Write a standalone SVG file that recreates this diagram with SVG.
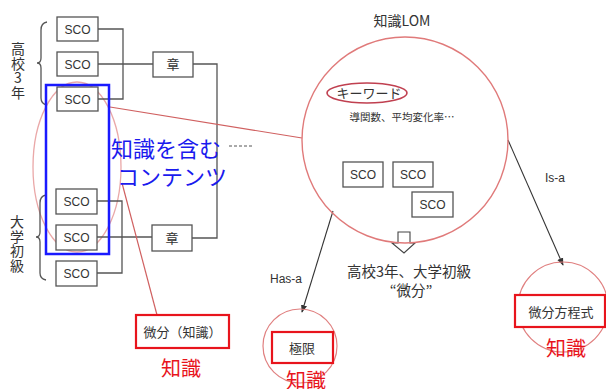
<svg xmlns="http://www.w3.org/2000/svg" width="606" height="389" viewBox="0 0 606 389">
<defs>
<style>
.box{fill:#fff;stroke:#555;stroke-width:1.3}
.rbox{fill:#fff;stroke:#e8141c;stroke-width:2.2}
.t{font-family:"Liberation Sans","Noto Sans CJK JP",sans-serif;fill:#333;text-anchor:middle}
.j{font-family:"Noto Sans CJK JP",sans-serif;fill:#333;text-anchor:middle}
.v{font-family:"Noto Sans CJK JP",sans-serif;fill:#333;font-size:14px;writing-mode:vertical-rl;text-orientation:upright;letter-spacing:0.5px}
.red{font-family:"Noto Sans CJK JP",sans-serif;fill:#e8141c;text-anchor:middle;font-size:20px}
.blue{font-family:"Noto Sans CJK JP",sans-serif;fill:#1a1aee;font-size:22px}
.ln{fill:none;stroke:#555;stroke-width:1.3}
.pl{fill:none;stroke:#d06060;stroke-width:1.2}
</style>
<marker id="ah" viewBox="0 0 10 10" refX="9" refY="5" markerWidth="7" markerHeight="7" orient="auto">
<path d="M0,1 L10,5 L0,9 z" fill="#333"/>
</marker>
</defs>
<rect width="606" height="389" fill="#fff"/>

<ellipse id="knowledge-ellipse" cx="77" cy="167" rx="44" ry="85" fill="none" stroke="#eaa8a8" stroke-width="1.3"/>

<g id="connectors">
<path class="ln" d="M98,29 H123 V99 H98 M98,64 H153"/>
<path class="ln" d="M193,64 H217 V238 H192"/>
<path class="ln" d="M97,201 H122 V273 H97 M97,237 H152"/>
<path class="pl" d="M110,107 L302,138"/>
<path class="pl" d="M122,183 L157,315"/>
<path d="M229,146 H252" stroke="#555" stroke-width="1" stroke-dasharray="3,2"/>
<line x1="333" y1="211" x2="302" y2="312" stroke="#333" stroke-width="1.1" marker-end="url(#ah)"/>
<line x1="508" y1="140" x2="563" y2="265" stroke="#333" stroke-width="1.1" marker-end="url(#ah)"/>
<polygon points="398,232 410,232 410,243 415,243 404,253 392,243 398,243" fill="#fff" stroke="#444" stroke-width="1.1"/>
</g>

<g id="brace-hs">
<path class="ln" d="M47,22 Q41,23 41,30 V58 Q41,63 37,63 Q41,63 41,68 V98 Q41,104 47,105"/>
<text class="v" x="18" y="42">高校3年</text>
</g>
<g id="brace-univ">
<path class="ln" d="M46,195 Q40,196 40,203 V232 Q40,237 36,237 Q40,237 40,242 V273 Q40,279 46,280"/>
<text class="v" x="17" y="215">大学初級</text>
</g>

<g id="sco1"><rect class="box" x="57" y="17" width="41" height="24"/><text class="t" font-size="12" x="77.5" y="33.5">SCO</text></g>
<g id="sco2"><rect class="box" x="57" y="52" width="41" height="24"/><text class="t" font-size="12" x="77.5" y="68.5">SCO</text></g>
<g id="sco3"><rect class="box" x="57" y="87" width="41" height="24"/><text class="t" font-size="12" x="77.5" y="103.5">SCO</text></g>
<g id="sco4"><rect class="box" x="56" y="189" width="41" height="25"/><text class="t" font-size="12" x="76.5" y="206">SCO</text></g>
<g id="sco5"><rect class="box" x="56" y="225" width="41" height="25"/><text class="t" font-size="12" x="76.5" y="242">SCO</text></g>
<g id="sco6"><rect class="box" x="56" y="261" width="41" height="25"/><text class="t" font-size="12" x="76.5" y="278">SCO</text></g>
<g id="chapter1"><rect class="box" x="153" y="52" width="40" height="25"/><text class="j" font-size="13" x="173" y="69">章</text></g>
<g id="chapter2"><rect class="box" x="152" y="225" width="40" height="26"/><text class="j" font-size="13" x="172" y="243">章</text></g>

<rect id="content-box" x="46" y="85" width="63" height="169" fill="none" stroke="#1a1aff" stroke-width="2.5"/>
<g id="content-label">
<text class="blue" x="111" y="157">知識を含む</text>
<text class="blue" x="117" y="185">コンテンツ</text>
</g>

<g id="bibun-knowledge">
<rect class="rbox" x="136" y="315" width="93" height="33"/>
<text class="j" font-size="13" x="182.5" y="337">微分（知識）</text>
<text class="red" x="181" y="376">知識</text>
</g>

<g id="lom">
<circle cx="405" cy="140" r="103" fill="none" stroke="#e07a7a" stroke-width="1.4"/>
<text class="j" font-size="14" x="402" y="26">知識LOM</text>
<ellipse cx="367" cy="93" rx="40" ry="10" fill="none" stroke="#c04050" stroke-width="1.6"/>
<text class="j" font-size="13" x="369" y="98">キーワード</text>
<text class="j" font-size="10.5" x="402" y="121">導関数、平均変化率…</text>
<rect class="box" x="343" y="162" width="40" height="25"/><text class="t" font-size="12" x="363" y="179">SCO</text>
<rect class="box" x="393" y="162" width="40" height="25"/><text class="t" font-size="12" x="413" y="179">SCO</text>
<rect class="box" x="412" y="192" width="41" height="25"/><text class="t" font-size="12" x="432.5" y="209">SCO</text>
</g>

<g id="lom-caption">
<text class="j" font-size="14.5" x="409" y="277">高校3年、大学初級</text>
<text class="j" font-size="14.5" x="411" y="296">“微分”</text>
</g>

<g id="edge-labels">
<text class="t" font-size="12" x="286" y="283">Has-a</text>
<text class="t" font-size="12" x="555" y="182">Is-a</text>
</g>

<g id="limit">
<circle cx="300" cy="346" r="37" fill="none" stroke="#e08080" stroke-width="1.2"/>
<rect class="rbox" x="272" y="332" width="61" height="31"/>
<text class="j" font-size="13" x="302" y="353">極限</text>
<text class="red" x="306" y="388">知識</text>
</g>

<g id="diffeq">
<circle cx="563" cy="307" r="45" fill="none" stroke="#e08080" stroke-width="1.2"/>
<rect class="rbox" x="515" y="295" width="90" height="32"/>
<text class="j" font-size="13" x="561" y="317">微分方程式</text>
<text class="red" x="566" y="356">知識</text>
</g>
</svg>
